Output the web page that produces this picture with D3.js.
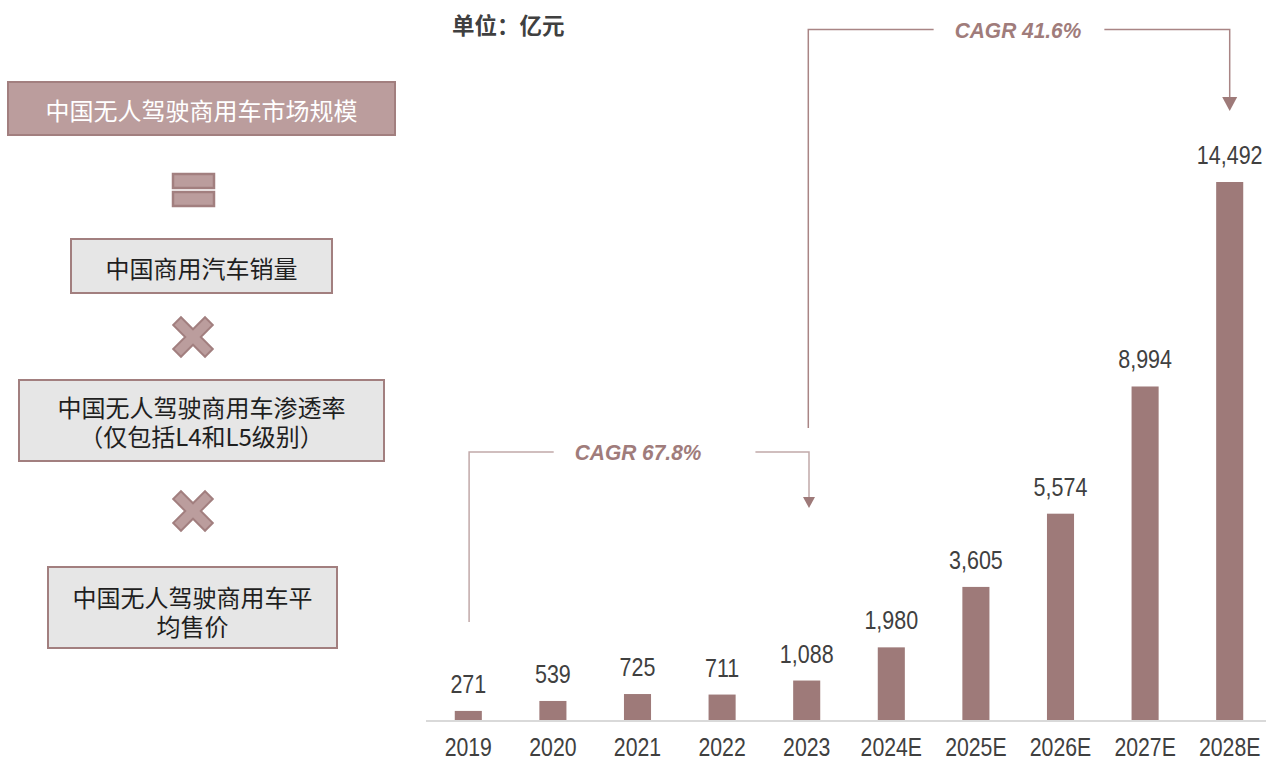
<!DOCTYPE html>
<html><head><meta charset="utf-8">
<script src="https://cdn.jsdelivr.net/npm/d3@7"></script>
<style>
html,body{margin:0;padding:0;background:#fff;}
svg{display:block;}
</style></head>
<body><svg id="chart" width="1266" height="760"></svg>
<script>
// ---- data ----
const categories = ["2019","2020","2021","2022","2023","2024E","2025E","2026E","2027E","2028E"];
const values = [271, 539, 725, 711, 1088, 1980, 3605, 5574, 8994, 14492];
const cagrLabels = ["CAGR 67.8%", "CAGR 41.6%"];
const cagrFrom = ["2019", "2023"];
const cagrTo = ["2023", "2028E"];
const unitLabel = "单位：亿元";
const formulaBoxes = [
  ["中国无人驾驶商用车市场规模"],
  ["中国商用汽车销量"],
  ["中国无人驾驶商用车渗透率", "（仅包括L4和L5级别）"],
  ["中国无人驾驶商用车平", "均售价"]
];

// ---- styles ----
const barColor = "#9E7A79";
const textColor = "#404040";
const accent = "#A07C7B";
const boxMain = "#BB9D9D";
const boxBorder = "#A27F7F";
const greyFill = "#E6E6E6";
const numFont = "'Liberation Sans', Arial, sans-serif";
const cjkFont = "'Noto Sans CJK SC', 'Noto Sans', sans-serif";

const svg = d3.select("#chart");

// ---- scales ----
const x = d3.scaleBand().domain(categories).range([426, 1272]).paddingInner(0.68).paddingOuter(0.34);
const y = d3.scaleLinear().domain([0, d3.max(values)]).range([721, 182]);
const cx = c => x(c) + x.bandwidth() / 2;

function sText(g, px, py, str, size, sx, opts = {}) {
  return g.append("text")
    .attr("transform", `translate(${px},${py}) scale(${sx},1)`)
    .attr("text-anchor", opts.anchor || "middle")
    .attr("font-family", opts.family || numFont)
    .attr("font-size", size)
    .attr("font-weight", opts.weight || "normal")
    .attr("font-style", opts.style || "normal")
    .attr("fill", opts.fill || textColor)
    .text(str);
}

// ---- bars ----
const gBars = svg.append("g");
gBars.selectAll("rect").data(values).join("rect")
  .attr("x", (d, i) => x(categories[i]))
  .attr("width", x.bandwidth())
  .attr("y", d => y(d))
  .attr("height", d => y(0) - y(d))
  .attr("fill", barColor);

// value labels
const fmt = d3.format(",");
values.forEach((v, i) => {
  sText(gBars, cx(categories[i]), y(v) - 18, fmt(v), 25, 0.86);
});

// x axis
const xAxis = svg.append("g").attr("transform", `translate(0,${y(0)})`)
  .call(d3.axisBottom(x).tickSize(0).tickFormat(""));
xAxis.select(".domain").attr("stroke", "#D9D9D9").attr("stroke-width", 2).attr("d", "M426,0H1266");
xAxis.selectAll(".tick text").remove();
xAxis.selectAll(".tick").each(function(d) {
  sText(d3.select(this), 0, 35, d, 25, 0.85);
});

// unit label
svg.append("text").attr("x", 452).attr("y", 24).attr("dominant-baseline", "central")
  .attr("font-family", cjkFont).attr("font-size", 22.5).attr("font-weight", "bold")
  .attr("fill", textColor).text(unitLabel);

// ---- CAGR brackets ----
const bracketCfg = [
  { yTop: 452, yLeftBottom: 622, tip: 508, head: [12, 11], gapL: 21, gapR: 54, dxL: 0.8, dxR: 2.3, stroke: "#C1A9A9" },
  { yTop: 29.5, yLeftBottom: 428, tip: 111, head: [15, 14], gapL: 21, gapR: 23, dxL: 1.6, dxR: 0, stroke: "#A98585" }
];
cagrLabels.forEach((lab, i) => {
  const c = bracketCfg[i];
  const g = svg.append("g");
  const xl = cx(cagrFrom[i]) + c.dxL;
  const xr = cx(cagrTo[i]) + c.dxR;
  const mid = (xl + xr) / 2 - 1;
  const t = sText(g, mid, c.yTop + 8, lab, 22.5, 0.93, { weight: "bold", style: "italic", fill: accent });
  const tw = t.node().getBBox().width * 0.93;
  const ts = mid - tw / 2, te = mid + tw / 2;
  g.append("path").attr("fill", "none").attr("stroke", c.stroke).attr("stroke-width", 1.5)
    .attr("d", `M${xl},${c.yLeftBottom}V${c.yTop}H${ts - c.gapL}`);
  g.append("path").attr("fill", "none").attr("stroke", c.stroke).attr("stroke-width", 1.5)
    .attr("d", `M${te + c.gapR},${c.yTop}H${xr}V${c.tip - c.head[1]}`);
  g.append("path").attr("fill", barColor)
    .attr("d", `M${xr - c.head[0]/2},${c.tip - c.head[1]}H${xr + c.head[0]/2}L${xr},${c.tip}Z`);
});

// ---- formula boxes on the left ----
const boxLayout = [
  { x0: 8, y0: 82, x1: 395, y1: 135, fill: boxMain, color: "#FFFFFF", top: 109 },
  { x0: 71, y0: 239, x1: 332, y1: 293, fill: greyFill, color: "#1F1F1F", top: 267 },
  { x0: 19, y0: 380, x1: 384, y1: 461, fill: greyFill, color: "#1F1F1F", top: 406 },
  { x0: 48, y0: 567, x1: 337, y1: 648, fill: greyFill, color: "#1F1F1F", top: 596 }
];
const lineGap = 29.5;
const gBox = svg.append("g");
formulaBoxes.forEach((lines, i) => {
  const b = boxLayout[i];
  gBox.append("rect").attr("x", b.x0).attr("y", b.y0).attr("width", b.x1 - b.x0).attr("height", b.y1 - b.y0)
    .attr("fill", b.fill).attr("stroke", boxBorder).attr("stroke-width", 2);
  const mx = (b.x0 + b.x1) / 2;
  const txt = gBox.append("text").attr("text-anchor", "middle")
    .attr("font-family", cjkFont).attr("font-size", 24).attr("fill", b.color);
  lines.forEach((ln, j) => {
    txt.append("tspan").attr("x", mx).attr("y", b.top + j * lineGap)
      .attr("dominant-baseline", "central").text(ln);
  });
});

// equals sign
[[173, 174, 214, 188], [173, 192, 214, 206]].forEach(r => {
  gBox.append("rect").attr("x", r[0]).attr("y", r[1]).attr("width", r[2] - r[0]).attr("height", r[3] - r[1])
    .attr("fill", boxMain).attr("stroke", boxBorder).attr("stroke-width", 2.5);
});
// multiply signs
function cross(cxp, cyp) {
  const L = 22.5, t = 11;
  const h = t / 2;
  const pts = [[-h,-L],[h,-L],[h,-h],[L,-h],[L,h],[h,h],[h,L],[-h,L],[-h,h],[-L,h],[-L,-h],[-h,-h]];
  gBox.append("polygon")
    .attr("points", pts.map(p => p.join(",")).join(" "))
    .attr("transform", `translate(${cxp},${cyp}) rotate(45)`)
    .attr("fill", boxMain).attr("stroke", boxBorder).attr("stroke-width", 2);
}
cross(193, 337);
cross(193, 511);
</script>
</body></html>
